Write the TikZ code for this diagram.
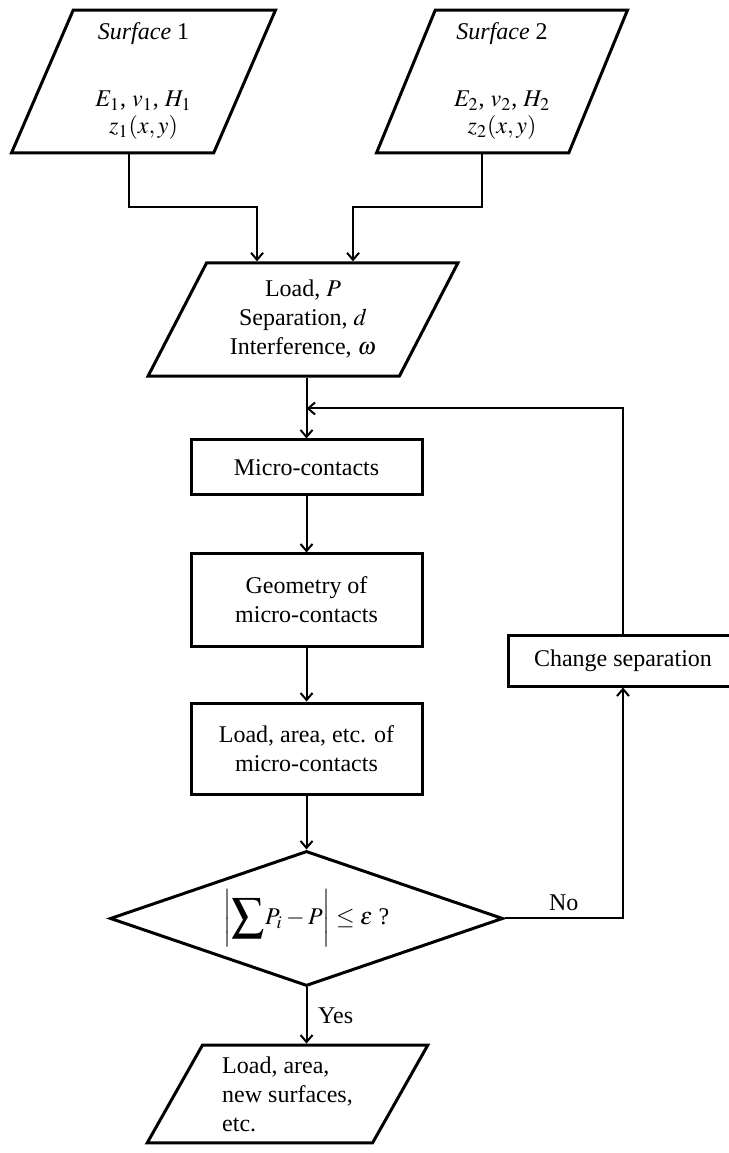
\documentclass[tikz,border=0pt]{standalone}
\usepackage{amsmath}
\usepackage{graphicx}
\usepackage{mathptmx}
\usepackage[no-math]{fontspec}
\setmainfont{Liberation Serif}
\usepackage{tikz}
\usetikzlibrary{positioning,arrows.meta,calc,shapes.geometric}

\begin{document}
\begin{tikzpicture}[
  font=\fontsize{12}{14.5}\selectfont,
  box/.style={draw,line width=1.5pt,minimum width=4.06cm,align=center,inner sep=2pt},
  para/.style={draw,line width=1.5pt,trapezium,trapezium stretches=true,align=center,inner sep=1pt},
  decide/.style={draw,line width=1.5pt,diamond,aspect=2.91,inner sep=0pt},
  arr/.style={line width=1pt,-{Straight Barb[length=3.5pt,width=6pt]}}
]
  \useasboundingbox (0,0) rectangle (12.812,-20.264);
  % input data of the two surfaces
  \node[para,trapezium left angle=70,trapezium right angle=110,
        minimum width=4.66cm,minimum height=2.51cm] (s1) at (2.522,-1.432)
        {\textit{Surface} 1\\[19pt]$E_1$, $v_1$, $H_1$\\[-1pt]$z_1(x,y)$};
  \node[para,trapezium left angle=70,trapezium right angle=110,
        minimum width=4.43cm,minimum height=2.51cm] (s2) at (8.823,-1.432)
        {\textit{Surface} 2\\[19pt]$E_2$, $v_2$, $H_2$\\[-1pt]$z_2(x,y)$};
  \node[para,trapezium left angle=61,trapezium right angle=119,
        minimum width=5.45cm,minimum height=1.99cm] (ld) at (5.325,-5.615)
        {Load, $P$\\Separation, $d$\\Interference, $\omega$};
  % main loop
  \node[box,minimum height=0.967cm] (mc) at (5.387,-8.216) {Micro-contacts};
  \node[box,minimum height=1.617cm] (geo) at (5.387,-10.545) {Geometry of\\micro-contacts};
  \node[box,minimum height=1.599cm] (la) at (5.387,-13.155) {Load, area, etc. of\\micro-contacts};
  \node[decide,minimum width=6.907cm,minimum height=2.373cm] (dec) at (5.387,-16.142)
        {$\bigg|\vcenter{\hbox{\scalebox{1.35}{$\displaystyle\sum$}}}P_i-P\bigg|\le\varepsilon$ ?};
  \node[box,minimum width=4.007cm,minimum height=0.879cm] (chg) at (10.949,-11.617) {Change separation};
  % output
  \node[para,trapezium left angle=61,trapezium right angle=119,align=left,
        minimum width=4.94cm,minimum height=1.72cm] (fin) at (5.053,-19.227)
        {Load, area,\\new surfaces,\\etc.};
  \coordinate (jn) at ($(mc.north)+(0,0.527)$);
  % connectors
  \draw[arr] ([xshift=-0.255cm]s1.south) -- ++(0,-0.931) -| ([xshift=-0.808cm]ld.north);
  \draw[arr] ([xshift=-0.351cm]s2.south) -- ++(0,-0.931) -| ([xshift=0.879cm]ld.north);
  \draw[arr] (ld.south -| mc.north) -- (mc.north);
  \draw[arr] (mc.south) -- (geo.north);
  \draw[arr] (geo.south) -- (la.north);
  \draw[arr] (la.south) -- (dec.north);
  \draw[arr] (dec.south) -- (dec.south |- fin.north) node[midway,right,xshift=2pt] {Yes};
  \draw[arr] (dec.east) -| (chg.south) node[pos=0.25,above] {No};
  \draw[arr] (chg.north) |- (jn);
\end{tikzpicture}
\end{document}
